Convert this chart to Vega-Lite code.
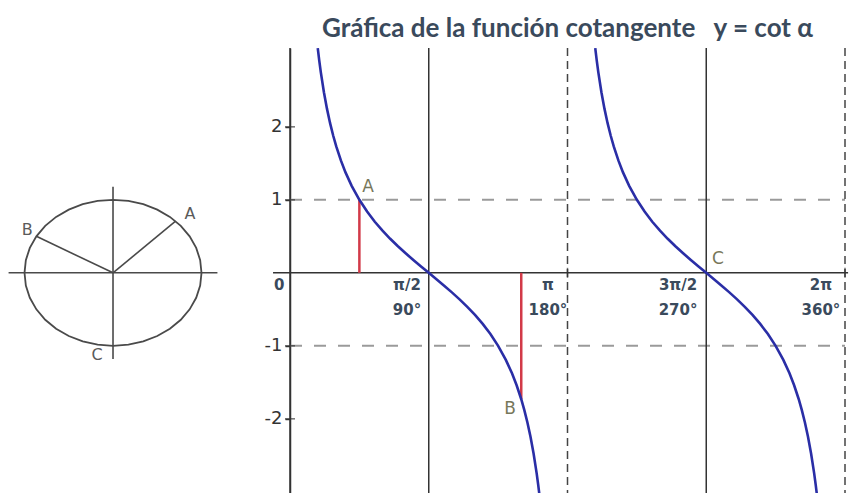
{
  "$schema": "https://vega.github.io/schema/vega-lite/v6.json",
  "background": "white",
  "padding": {"left": 0, "top": 16, "right": 0, "bottom": 0},
  "bounds": "flush",
  "spacing": 60,
  "config": {
    "view": {"stroke": null},
    "axisY": {"grid": false, "domainColor": "#333333", "domainWidth": 1.5, "tickColor": "#333333", "tickWidth": 1.5, "tickSize": 5, "labelFont": "DejaVu Sans", "labelFontSize": 18, "labelColor": "#333333", "labelPadding": 3}
  },
  "resolve": {"scale": {"x": "independent", "y": "independent"}},
  "datasets": {
    "circle": [
      {"o": 0, "cx": 1, "cy": 0}, {"o": 10, "cx": 0.985, "cy": 0.174}, {"o": 20, "cx": 0.94, "cy": 0.342}, {"o": 30, "cx": 0.866, "cy": 0.5},
      {"o": 40, "cx": 0.766, "cy": 0.643}, {"o": 50, "cx": 0.643, "cy": 0.766}, {"o": 60, "cx": 0.5, "cy": 0.866}, {"o": 70, "cx": 0.342, "cy": 0.94},
      {"o": 80, "cx": 0.174, "cy": 0.985}, {"o": 90, "cx": 0, "cy": 1}, {"o": 100, "cx": -0.174, "cy": 0.985}, {"o": 110, "cx": -0.342, "cy": 0.94},
      {"o": 120, "cx": -0.5, "cy": 0.866}, {"o": 130, "cx": -0.643, "cy": 0.766}, {"o": 140, "cx": -0.766, "cy": 0.643}, {"o": 150, "cx": -0.866, "cy": 0.5},
      {"o": 160, "cx": -0.94, "cy": 0.342}, {"o": 170, "cx": -0.985, "cy": 0.174}, {"o": 180, "cx": -1, "cy": 0}, {"o": 190, "cx": -0.985, "cy": -0.174},
      {"o": 200, "cx": -0.94, "cy": -0.342}, {"o": 210, "cx": -0.866, "cy": -0.5}, {"o": 220, "cx": -0.766, "cy": -0.643}, {"o": 230, "cx": -0.643, "cy": -0.766},
      {"o": 240, "cx": -0.5, "cy": -0.866}, {"o": 250, "cx": -0.342, "cy": -0.94}, {"o": 260, "cx": -0.174, "cy": -0.985}, {"o": 270, "cx": 0, "cy": -1},
      {"o": 280, "cx": 0.174, "cy": -0.985}, {"o": 290, "cx": 0.342, "cy": -0.94}, {"o": 300, "cx": 0.5, "cy": -0.866}, {"o": 310, "cx": 0.643, "cy": -0.766},
      {"o": 320, "cx": 0.766, "cy": -0.643}, {"o": 330, "cx": 0.866, "cy": -0.5}, {"o": 340, "cx": 0.94, "cy": -0.342}, {"o": 350, "cx": 0.985, "cy": -0.174},
      {"o": 360, "cx": 1, "cy": 0}
    ],
    "circleLines": [
      {"x1": -1.18, "y1": 0, "x2": 1.18, "y2": 0},
      {"x1": 0, "y1": -1.18, "x2": 0, "y2": 1.18},
      {"x1": 0, "y1": 0, "x2": 0.707, "y2": 0.707},
      {"x1": 0, "y1": 0, "x2": -0.866, "y2": 0.5}
    ],
    "circleLabels": [
      {"cx": 0.87, "cy": 0.81, "t": "A"},
      {"cx": -0.97, "cy": 0.58, "t": "B"},
      {"cx": -0.18, "cy": -1.12, "t": "C"}
    ],
    "curve": [
      {"b": 1, "a": 18, "v": 3.078}, {"b": 1, "a": 19, "v": 2.904}, {"b": 1, "a": 20, "v": 2.747}, {"b": 1, "a": 22, "v": 2.475},
      {"b": 1, "a": 24, "v": 2.246}, {"b": 1, "a": 26, "v": 2.05}, {"b": 1, "a": 28, "v": 1.881}, {"b": 1, "a": 30, "v": 1.732},
      {"b": 1, "a": 33, "v": 1.54}, {"b": 1, "a": 36, "v": 1.376}, {"b": 1, "a": 40, "v": 1.192}, {"b": 1, "a": 45, "v": 1},
      {"b": 1, "a": 50, "v": 0.839}, {"b": 1, "a": 55, "v": 0.7}, {"b": 1, "a": 60, "v": 0.577}, {"b": 1, "a": 65, "v": 0.466},
      {"b": 1, "a": 70, "v": 0.364}, {"b": 1, "a": 75, "v": 0.268}, {"b": 1, "a": 80, "v": 0.176}, {"b": 1, "a": 85, "v": 0.087},
      {"b": 1, "a": 90, "v": 0}, {"b": 1, "a": 95, "v": -0.087}, {"b": 1, "a": 100, "v": -0.176}, {"b": 1, "a": 105, "v": -0.268},
      {"b": 1, "a": 110, "v": -0.364}, {"b": 1, "a": 115, "v": -0.466}, {"b": 1, "a": 120, "v": -0.577}, {"b": 1, "a": 125, "v": -0.7},
      {"b": 1, "a": 130, "v": -0.839}, {"b": 1, "a": 135, "v": -1}, {"b": 1, "a": 140, "v": -1.192}, {"b": 1, "a": 144, "v": -1.376},
      {"b": 1, "a": 147, "v": -1.54}, {"b": 1, "a": 150, "v": -1.732}, {"b": 1, "a": 152, "v": -1.881}, {"b": 1, "a": 154, "v": -2.05},
      {"b": 1, "a": 156, "v": -2.246}, {"b": 1, "a": 158, "v": -2.475}, {"b": 1, "a": 160, "v": -2.747}, {"b": 1, "a": 161, "v": -2.904},
      {"b": 1, "a": 162, "v": -3.078},
      {"b": 2, "a": 198, "v": 3.078}, {"b": 2, "a": 199, "v": 2.904}, {"b": 2, "a": 200, "v": 2.747}, {"b": 2, "a": 202, "v": 2.475},
      {"b": 2, "a": 204, "v": 2.246}, {"b": 2, "a": 206, "v": 2.05}, {"b": 2, "a": 208, "v": 1.881}, {"b": 2, "a": 210, "v": 1.732},
      {"b": 2, "a": 213, "v": 1.54}, {"b": 2, "a": 216, "v": 1.376}, {"b": 2, "a": 220, "v": 1.192}, {"b": 2, "a": 225, "v": 1},
      {"b": 2, "a": 230, "v": 0.839}, {"b": 2, "a": 235, "v": 0.7}, {"b": 2, "a": 240, "v": 0.577}, {"b": 2, "a": 245, "v": 0.466},
      {"b": 2, "a": 250, "v": 0.364}, {"b": 2, "a": 255, "v": 0.268}, {"b": 2, "a": 260, "v": 0.176}, {"b": 2, "a": 265, "v": 0.087},
      {"b": 2, "a": 270, "v": 0}, {"b": 2, "a": 275, "v": -0.087}, {"b": 2, "a": 280, "v": -0.176}, {"b": 2, "a": 285, "v": -0.268},
      {"b": 2, "a": 290, "v": -0.364}, {"b": 2, "a": 295, "v": -0.466}, {"b": 2, "a": 300, "v": -0.577}, {"b": 2, "a": 305, "v": -0.7},
      {"b": 2, "a": 310, "v": -0.839}, {"b": 2, "a": 315, "v": -1}, {"b": 2, "a": 320, "v": -1.192}, {"b": 2, "a": 324, "v": -1.376},
      {"b": 2, "a": 327, "v": -1.54}, {"b": 2, "a": 330, "v": -1.732}, {"b": 2, "a": 332, "v": -1.881}, {"b": 2, "a": 334, "v": -2.05},
      {"b": 2, "a": 336, "v": -2.246}, {"b": 2, "a": 338, "v": -2.475}, {"b": 2, "a": 340, "v": -2.747}, {"b": 2, "a": 341, "v": -2.904},
      {"b": 2, "a": 342, "v": -3.078}
    ],
    "hlines": [{"a": 0, "a2": 360, "v": 1}, {"a": 0, "a2": 360, "v": -1}],
    "xaxis": [{"a": -11, "a2": 362, "v": 0}],
    "vsolid": [{"a": 0}, {"a": 90}, {"a": 270}],
    "vdash": [{"a": 180}, {"a": 360}],
    "yticks": [{"a": 0, "v": 2}, {"a": 0, "v": 1}, {"a": 0, "v": -1}, {"a": 0, "v": -2}],
    "xticks": [{"a": 180, "v": 0}, {"a": 360, "v": 0}],
    "red": [{"a": 45, "v0": 0, "v": 1}, {"a": 150, "v0": 0, "v": -1.732}],
    "points": [
      {"a": 50.6, "v": 1.17, "t": "A"},
      {"a": 142.7, "v": -1.86, "t": "B"},
      {"a": 277.6, "v": 0.19, "t": "C"}
    ],
    "xlabels": [
      {"a": -7, "v": 0, "t": "0"},
      {"a": 75.9, "v": 0, "t": "π/2\n90°"},
      {"a": 167.3, "v": 0, "t": "π\n180°"},
      {"a": 251.7, "v": 0, "t": "3π/2\n270°"},
      {"a": 344.4, "v": 0, "t": "2π\n360°"}
    ]
  },
  "hconcat": [
    {
      "width": 230,
      "height": 446,
      "layer": [
        {
          "data": {"name": "circleLines"},
          "mark": {"type": "rule", "color": "#4a4a4a", "strokeWidth": 1.6},
          "encoding": {
            "x": {"field": "x1", "type": "quantitative", "scale": {"domain": [-1.277, 1.322], "nice": false, "zero": false}, "axis": null},
            "y": {"field": "y1", "type": "quantitative", "scale": {"domain": [-3.03, 3.08], "nice": false, "zero": false}, "axis": null},
            "x2": {"field": "x2"},
            "y2": {"field": "y2"}
          }
        },
        {
          "data": {"name": "circle"},
          "mark": {"type": "line", "color": "#4a4a4a", "strokeWidth": 1.8},
          "encoding": {
            "x": {"field": "cx", "type": "quantitative", "axis": null},
            "y": {"field": "cy", "type": "quantitative", "axis": null},
            "order": {"field": "o", "type": "quantitative"}
          }
        },
        {
          "data": {"name": "circleLabels"},
          "mark": {"type": "text", "font": "DejaVu Sans", "fontSize": 16, "color": "#5a5a5a", "align": "center", "baseline": "middle"},
          "encoding": {
            "x": {"field": "cx", "type": "quantitative", "axis": null},
            "y": {"field": "cy", "type": "quantitative", "axis": null},
            "text": {"field": "t", "type": "nominal"}
          }
        }
      ]
    },
    {
      "width": 555,
      "height": 446,
      "title": {"text": "Gráfica de la función cotangente\u00a0\u00a0\u00a0y = cot α", "font": "Lato", "fontSize": 26, "fontWeight": "bold", "color": "#3a4a5c", "anchor": "middle", "offset": 5},
      "layer": [
        {
          "data": {"name": "hlines"},
          "mark": {"type": "rule", "color": "#9a9a9a", "strokeWidth": 2, "strokeDash": [12, 12]},
          "encoding": {
            "y": {"field": "v", "type": "quantitative", "scale": {"domain": [-3.03, 3.08], "nice": false, "zero": false}, "title": null, "axis": {"values": [-2, -1, 1, 2], "labelExpr": "'' + datum.value"}},
            "x": {"field": "a", "type": "quantitative", "scale": {"domain": [0, 360], "nice": false, "zero": false}, "axis": null},
            "x2": {"field": "a2"}
          }
        },
        {
          "data": {"name": "vsolid"},
          "mark": {"type": "rule", "color": "#333333", "strokeWidth": 1.5},
          "encoding": {"x": {"field": "a", "type": "quantitative", "axis": null}}
        },
        {
          "data": {"name": "vdash"},
          "mark": {"type": "rule", "color": "#444444", "strokeWidth": 1.5, "strokeDash": [8, 5]},
          "encoding": {"x": {"field": "a", "type": "quantitative", "axis": null}}
        },
        {
          "data": {"name": "xaxis"},
          "mark": {"type": "rule", "color": "#333333", "strokeWidth": 1.5},
          "encoding": {
            "y": {"field": "v", "type": "quantitative", "title": null},
            "x": {"field": "a", "type": "quantitative", "axis": null},
            "x2": {"field": "a2"}
          }
        },
        {
          "data": {"name": "yticks"},
          "mark": {"type": "tick", "orient": "horizontal", "color": "#333333", "size": 10, "thickness": 1.5},
          "encoding": {
            "x": {"field": "a", "type": "quantitative", "axis": null},
            "y": {"field": "v", "type": "quantitative", "title": null}
          }
        },
        {
          "data": {"name": "xticks"},
          "mark": {"type": "tick", "orient": "vertical", "color": "#333333", "size": 10, "thickness": 1.5},
          "encoding": {
            "x": {"field": "a", "type": "quantitative", "axis": null},
            "y": {"field": "v", "type": "quantitative", "title": null}
          }
        },
        {
          "data": {"name": "red"},
          "mark": {"type": "rule", "color": "#d23a48", "strokeWidth": 2.5},
          "encoding": {
            "x": {"field": "a", "type": "quantitative", "axis": null},
            "y": {"field": "v0", "type": "quantitative", "title": null},
            "y2": {"field": "v"}
          }
        },
        {
          "data": {"name": "curve"},
          "mark": {"type": "line", "color": "#2a2ea6", "strokeWidth": 2.6, "clip": true},
          "encoding": {
            "x": {"field": "a", "type": "quantitative", "axis": null},
            "y": {"field": "v", "type": "quantitative", "title": null},
            "detail": {"field": "b", "type": "nominal"}
          }
        },
        {
          "data": {"name": "points"},
          "mark": {"type": "text", "font": "DejaVu Sans", "fontSize": 17, "color": "#77775a", "align": "center", "baseline": "middle"},
          "encoding": {
            "x": {"field": "a", "type": "quantitative", "axis": null},
            "y": {"field": "v", "type": "quantitative", "title": null},
            "text": {"field": "t", "type": "nominal"}
          }
        },
        {
          "data": {"name": "xlabels"},
          "mark": {"type": "text", "font": "DejaVu Sans", "fontSize": 15, "fontWeight": "bold", "color": "#3a4a5c", "align": "center", "baseline": "top", "dy": 5, "lineBreak": "\n", "lineHeight": 25},
          "encoding": {
            "x": {"field": "a", "type": "quantitative", "axis": null},
            "y": {"field": "v", "type": "quantitative", "title": null},
            "text": {"field": "t", "type": "nominal"}
          }
        }
      ]
    }
  ]
}
